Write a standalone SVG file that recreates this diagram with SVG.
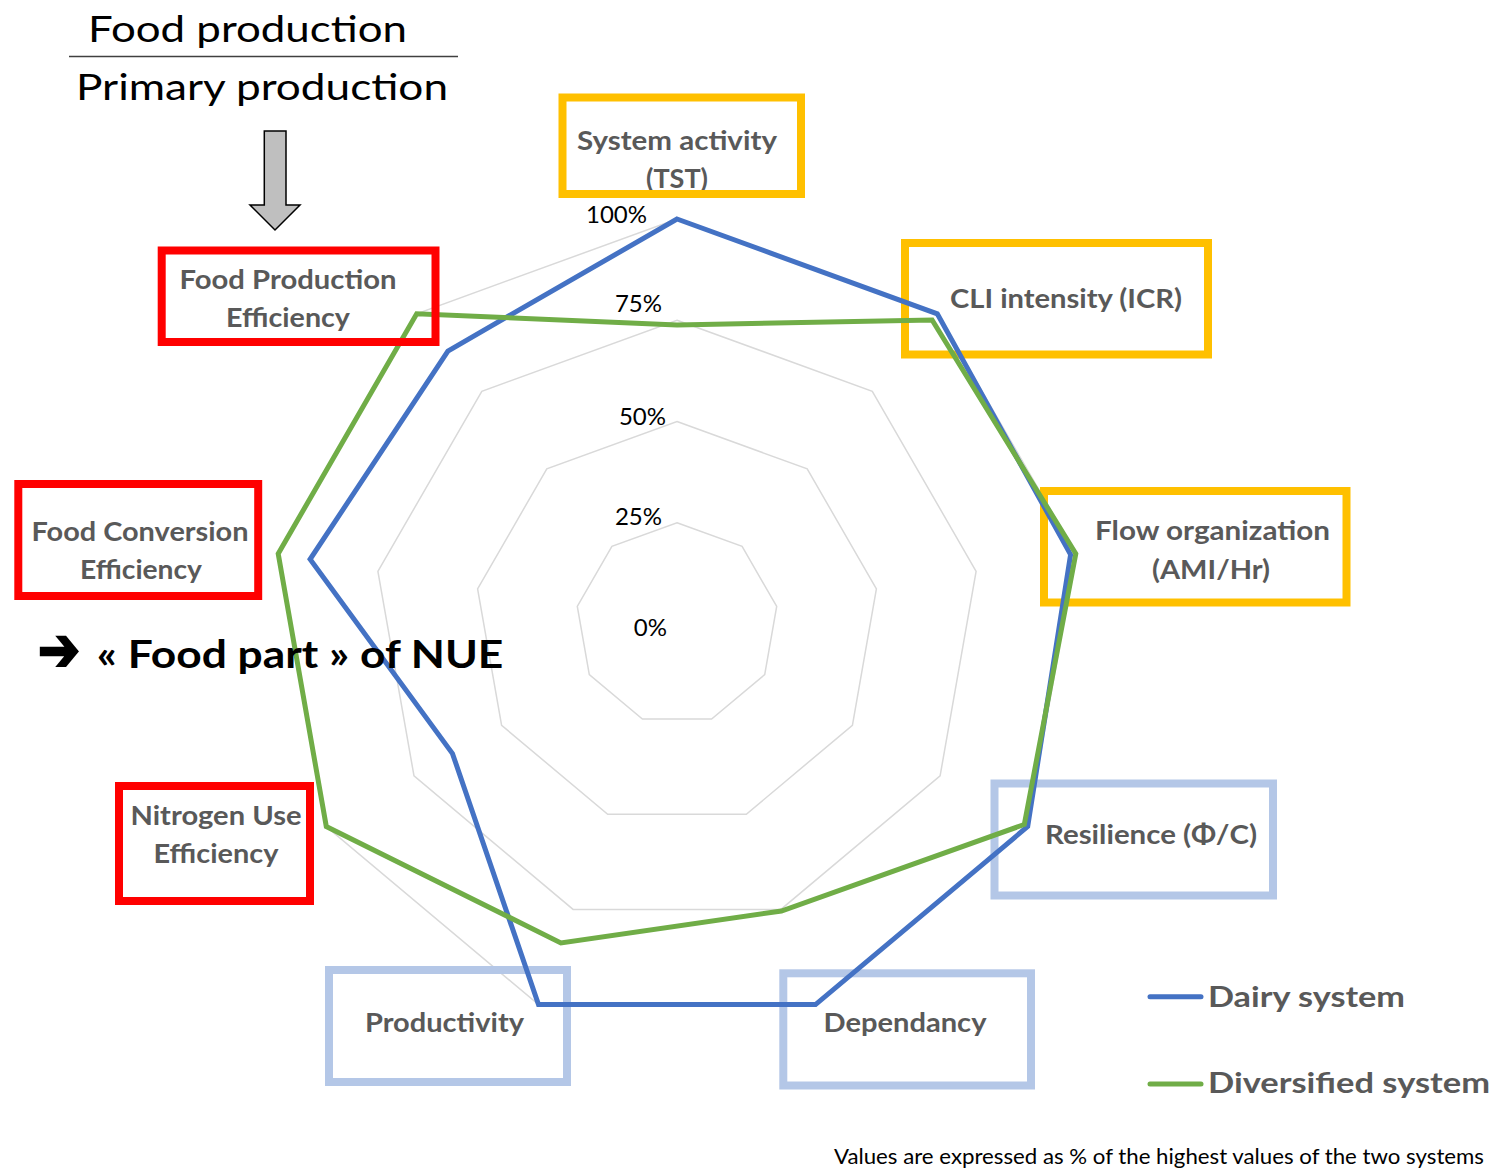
<svg xmlns="http://www.w3.org/2000/svg" width="1506" height="1171" viewBox="0 0 1506 1171">
  <style>
    .hdr { font-family: Lato, "Open Sans", "Liberation Sans", sans-serif; font-size: 37.5px; fill: #000; }
    .lbl { font-family: Lato, "Open Sans", "Liberation Sans", sans-serif; font-size: 27px; font-weight: bold; fill: #595959; text-anchor: middle; }
    .pct { font-family: Lato, "Open Sans", "Liberation Sans", sans-serif; font-size: 24px; fill: #000; text-anchor: end; }
    .leg { font-family: Lato, "Open Sans", "Liberation Sans", sans-serif; font-size: 29px; font-weight: bold; fill: #595959; }
    .note { font-family: Lato, "Open Sans", "Liberation Sans", sans-serif; font-size: 21px; fill: #000; }
    .big { font-family: Lato, "Open Sans", "Liberation Sans", sans-serif; font-size: 39px; font-weight: bold; fill: #000; }
    .ring { fill: none; stroke: #D9D9D9; stroke-width: 1.5; }
    .box-y { fill: none; stroke: #FFC000; stroke-width: 8; }
    .box-b { fill: none; stroke: #B4C7E7; stroke-width: 8; }
    .box-r { fill: none; stroke: #FF0000; stroke-width: 8; }
    .dairy { fill: none; stroke: #4472C4; stroke-width: 5; stroke-linejoin: miter; }
    .divers { fill: none; stroke: #70AD47; stroke-width: 5; stroke-linejoin: miter; }
  </style>

  <!-- ratio header -->
  <g id="ratio">
    <text class="hdr" x="88" y="42" textLength="319" lengthAdjust="spacingAndGlyphs">Food production</text>
    <line x1="69" y1="56.5" x2="458" y2="56.5" stroke="#404040" stroke-width="1.3"/>
    <text class="hdr" x="76" y="100" textLength="372" lengthAdjust="spacingAndGlyphs">Primary production</text>
  </g>
  <g id="down-arrow">
    <polygon points="264.3,131 286,131 286,205 300,205 275,230 250,205 264.3,205" fill="#BFBFBF" stroke="#000" stroke-width="1.5"/>
  </g>

  <!-- radar grid: 9 axes, centre (677,624), 405 px = 100% -->
  <g id="grid">
    <polygon class="ring" points="677,522.75 742.1,546.4 776.7,606.4 764.7,674.6 711.6,719.1 642.4,719.1 589.3,674.6 577.3,606.4 611.9,546.4"/>
    <polygon class="ring" points="677,421.5 807.2,468.9 876.4,588.8 852.4,725.3 746.3,814.3 607.7,814.3 501.6,725.3 477.6,588.8 546.8,468.9"/>
    <polygon class="ring" points="677,320.25 872.3,391.3 976.1,571.3 940.1,775.9 780.9,909.4 573.1,909.4 414,775.9 377.9,571.3 481.8,391.3"/>
    <polygon class="ring" points="677,219 937.3,313.8 1075.8,553.7 1027.7,826.5 815.5,1004.6 538.5,1004.6 326.3,826.5 278.2,553.7 416.7,313.8"/>
    <text class="pct" x="647" y="223">100%</text>
    <text class="pct" x="662" y="312">75%</text>
    <text class="pct" x="666" y="425">50%</text>
    <text class="pct" x="662" y="525">25%</text>
    <text class="pct" x="667" y="636">0%</text>
  </g>

  <!-- axis label boxes drawn under the series -->
  <g id="system-activity">
    <text class="lbl" x="677" y="150" textLength="200" lengthAdjust="spacingAndGlyphs">System activity</text>
    <text class="lbl" x="677" y="188" textLength="62" lengthAdjust="spacingAndGlyphs">(TST)</text>
    <rect class="box-y" x="562.5" y="97.5" width="238.5" height="96.5"/>
  </g>
  <g id="cli-intensity">
    <rect class="box-y" x="905" y="243" width="303" height="111.5"/>
    <text class="lbl" x="1066" y="308" textLength="232" lengthAdjust="spacingAndGlyphs">CLI intensity (ICR)</text>
  </g>
  <g id="flow-organization">
    <rect class="box-y" x="1044" y="491" width="302.5" height="111.5"/>
    <text class="lbl" x="1212.5" y="540" textLength="235" lengthAdjust="spacingAndGlyphs">Flow organization</text>
    <text class="lbl" x="1211" y="579" textLength="118" lengthAdjust="spacingAndGlyphs">(AMI/Hr)</text>
  </g>
  <g id="resilience">
    <rect class="box-b" x="994.5" y="783.5" width="278.5" height="112"/>
    <text class="lbl" x="1151" y="844" textLength="212" lengthAdjust="spacingAndGlyphs">Resilience (Φ/C)</text>
  </g>
  <g id="dependancy">
    <rect class="box-b" x="783.3" y="973.3" width="247.7" height="112.2"/>
    <text class="lbl" x="905" y="1032" textLength="163" lengthAdjust="spacingAndGlyphs">Dependancy</text>
  </g>
  <g id="productivity">
    <rect class="box-b" x="329" y="970" width="238" height="112"/>
    <text class="lbl" x="444.5" y="1032" textLength="159" lengthAdjust="spacingAndGlyphs">Productivity</text>
  </g>

  <!-- data series -->
  <g id="series">
    <polygon class="dairy" points="677,219 937.3,313.8 1070.6,554.6 1027.7,826.5 815.5,1004.6 538.5,1004.6 452.5,753.6 310.1,559.3 447.9,351"/>
    <polygon class="divers" points="677,325 932.1,320 1075.8,553.7 1024.3,824.5 781.4,911 560.9,942.9 326.3,826.5 278.2,553.7 416.7,313.8"/>
  </g>

  <!-- efficiency indicators -->
  <g id="food-production-efficiency">
    <rect class="box-r" x="161.7" y="250.5" width="273.8" height="91.5"/>
    <text class="lbl" x="288" y="289" textLength="217" lengthAdjust="spacingAndGlyphs">Food Production</text>
    <text class="lbl" x="288" y="327" textLength="124" lengthAdjust="spacingAndGlyphs">Efficiency</text>
  </g>
  <g id="food-conversion-efficiency">
    <rect class="box-r" x="18.3" y="484" width="239.9" height="112"/>
    <text class="lbl" x="140" y="541" textLength="217" lengthAdjust="spacingAndGlyphs">Food Conversion</text>
    <text class="lbl" x="141" y="579" textLength="122" lengthAdjust="spacingAndGlyphs">Efficiency</text>
  </g>
  <g id="nitrogen-use-efficiency">
    <rect class="box-r" x="119" y="786" width="191" height="115"/>
    <text class="lbl" x="216" y="825" textLength="171" lengthAdjust="spacingAndGlyphs">Nitrogen Use</text>
    <text class="lbl" x="216" y="863" textLength="125" lengthAdjust="spacingAndGlyphs">Efficiency</text>
  </g>

  <g id="food-part">
    <text x="38" y="670" font-family="'DejaVu Sans', sans-serif" font-size="60" font-weight="bold" stroke="#000" stroke-width="2.5" textLength="42" lengthAdjust="spacingAndGlyphs" fill="#000">➔</text>
    <text class="big" x="96.7" y="668" textLength="406.6" lengthAdjust="spacingAndGlyphs">« Food part » of NUE</text>
  </g>

  <!-- legend -->
  <g id="legend">
    <line x1="1150" y1="996.7" x2="1201" y2="996.7" stroke="#4472C4" stroke-width="5" stroke-linecap="round"/>
    <text class="leg" x="1208" y="1007" textLength="197" lengthAdjust="spacingAndGlyphs">Dairy system</text>
    <line x1="1150" y1="1084" x2="1201" y2="1084" stroke="#70AD47" stroke-width="5" stroke-linecap="round"/>
    <text class="leg" x="1208" y="1093" textLength="282" lengthAdjust="spacingAndGlyphs">Diversified system</text>
  </g>

  <g id="footnote">
    <text class="note" x="834" y="1164" textLength="650" lengthAdjust="spacingAndGlyphs">Values are expressed as % of the highest values of the two systems</text>
  </g>
</svg>
